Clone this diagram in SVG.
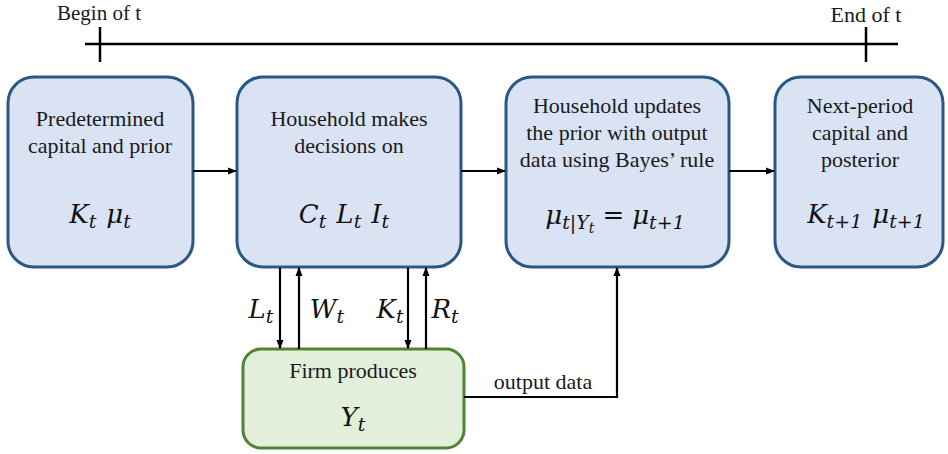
<svg xmlns="http://www.w3.org/2000/svg" width="948" height="454" viewBox="0 0 948 454">
<defs>
<marker id="ah" viewBox="0 0 10 10" refX="9" refY="5" markerWidth="4" markerHeight="4" orient="auto-start-reverse" markerUnits="strokeWidth">
<path d="M0,1 L10,5 L0,9 z" fill="#000"/>
</marker>
<style>
.blue{fill:#dae3f3;stroke:#2a5783;stroke-width:3}
.green{fill:#e2efda;stroke:#548235;stroke-width:3}
.t{font-family:"Liberation Serif","Times New Roman",serif;font-size:22px;fill:#1a1a1a;text-anchor:middle}
.m{font-family:"DejaVu Serif",serif;font-style:italic;font-size:26px;fill:#111;text-anchor:middle}
.s{font-size:19px}
.ss{font-size:14px}
.ln{stroke:#000;stroke-width:2.5;fill:none}
.ar{stroke:#000;stroke-width:2.2;fill:none;marker-end:url(#ah)}
</style>
</defs>
<rect width="948" height="454" fill="#fff"/>
<g id="timeline">
<line class="ln" x1="85" y1="44" x2="898" y2="44"/>
<line class="ln" x1="100" y1="27" x2="100" y2="62"/>
<line class="ln" x1="866" y1="27" x2="866" y2="62"/>
<text class="t" x="99" y="20" style="font-size:21px">Begin of t</text>
<text class="t" x="866" y="22">End of t</text>
</g>
<g id="predetermined">
<rect class="blue" x="8" y="77" width="185" height="190" rx="26"/>
<text class="t" x="100" y="126">Predetermined</text>
<text class="t" x="100" y="153">capital and prior</text>
<text class="m" x="100" y="223">K<tspan class="s" dy="5">t</tspan><tspan dx="10" dy="-5">μ</tspan><tspan class="s" dy="5">t</tspan></text>
</g>
<g id="household">
<rect class="blue" x="237" y="77" width="224" height="190" rx="26"/>
<text class="t" x="349" y="126">Household makes</text>
<text class="t" x="349" y="153">decisions on</text>
<text class="m" x="344" y="223">C<tspan class="s" dy="5">t</tspan><tspan dx="10" dy="-5">L</tspan><tspan class="s" dy="5">t</tspan><tspan dx="10" dy="-5">I</tspan><tspan class="s" dy="5">t</tspan></text>
</g>
<g id="update">
<rect class="blue" x="506" y="77" width="223" height="190" rx="26"/>
<text class="t" x="617" y="113">Household updates</text>
<text class="t" x="617" y="140">the prior with output</text>
<text class="t" x="617" y="167">data using Bayes’ rule</text>
<text class="m" x="615" y="224">μ<tspan class="s" dy="5">t|Y</tspan><tspan class="ss" dy="4">t</tspan><tspan dx="8" dy="-9" style="font-style:normal">=</tspan><tspan dx="8">μ</tspan><tspan class="s" dy="5">t+1</tspan></text>
</g>
<g id="next">
<rect class="blue" x="775" y="77" width="168" height="190" rx="26"/>
<text class="t" x="860" y="113">Next-period</text>
<text class="t" x="860" y="140">capital and</text>
<text class="t" x="860" y="167">posterior</text>
<text class="m" x="866" y="223">K<tspan class="s" dy="5">t+1</tspan><tspan dx="10" dy="-5">μ</tspan><tspan class="s" dy="5">t+1</tspan></text>
</g>
<g id="firm">
<rect class="green" x="243" y="349" width="221" height="99" rx="18"/>
<text class="t" x="353" y="378">Firm produces</text>
<text class="m" x="353" y="426">Y<tspan class="s" dy="5">t</tspan></text>
</g>
<g id="connectors">
<line class="ar" x1="193" y1="171" x2="236" y2="171"/>
<line class="ar" x1="461" y1="171" x2="505" y2="171"/>
<line class="ar" x1="729" y1="171" x2="774" y2="171"/>
<line class="ar" x1="280" y1="268" x2="280" y2="348"/>
<line class="ar" x1="299" y1="349" x2="299" y2="268"/>
<line class="ar" x1="408" y1="268" x2="408" y2="348"/>
<line class="ar" x1="426" y1="349" x2="426" y2="268"/>
<polyline class="ar" points="464,397 617,397 617,268"/>
<text class="m" x="261" y="318">L<tspan class="s" dy="5">t</tspan></text>
<text class="m" x="327" y="318">W<tspan class="s" dy="5">t</tspan></text>
<text class="m" x="390" y="318">K<tspan class="s" dy="5">t</tspan></text>
<text class="m" x="445" y="318">R<tspan class="s" dy="5">t</tspan></text>
<text class="t" x="543" y="389">output data</text>
</g>
</svg>
